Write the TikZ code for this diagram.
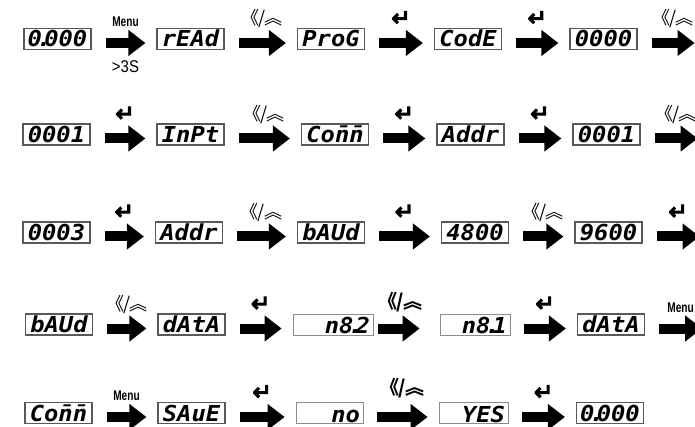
\documentclass[tikz,border=0pt]{standalone}
\usepackage{fontspec}
\usetikzlibrary{arrows.meta,calc}
\newfontfamily\segfont[FakeStretch=1.08]{DejaVu Sans Mono}
\newfontfamily\menufont[FakeStretch=0.72]{Liberation Sans}
\newfontfamily\lblfont[FakeStretch=0.88]{Liberation Sans}
\newfontfamily\cjkfont{Noto Sans CJK SC}
\newfontfamily\entfont[FakeBold=5]{DejaVu Sans}
\newcommand{\updn}{《\kern-1pt/\kern-1pt︽}
\newcommand{\segdp}{\kern-5pt.\kern-7pt}
\newcommand{\segm}{\rlap{¯}n}
\begin{document}
\begin{tikzpicture}[x=1pt,y=-1pt,
  segbox/.style={draw=black!65, line width=1.2pt, fill=white, minimum width=67pt,
    minimum height=21pt, inner sep=0pt, text height=16pt, text depth=0pt,
    font=\segfont\bfseries\itshape\fontsize{22}{22}\selectfont},
  lightbox/.style={segbox, draw=black!45, line width=0.8pt, text width=#1,
    align=right, inner xsep=3pt, text height=18pt},
  bigarrow/.style={line width=10pt, -{Triangle[length=17pt,width=25pt]},
    shorten <=14pt, shorten >=11pt},
  menulbl/.style={font=\menufont\bfseries\fontsize{14}{14}\selectfont, inner sep=0pt, anchor=south},
  timelbl/.style={font=\lblfont\fontsize{17}{17}\selectfont, inner sep=0pt, anchor=north},
  keylbl/.style={font=\cjkfont\fontsize{18}{18}\selectfont, inner sep=0pt, anchor=south},
  keyboldlbl/.style={keylbl, font=\cjkfont\bfseries\fontsize{19}{19}\selectfont},
  entlbl/.style={font=\entfont\fontsize{23}{23}\selectfont, inner sep=0pt, anchor=south}
]
\useasboundingbox (0,0) rectangle (695,427);
% ---------- row 1 ----------
\node[segbox] (b11) at (57.5,39) {0\segdp000};
\node[segbox] (b12) at (190.5,39) {rEAd};
\node[segbox] (b13) at (331,39) {ProG};
\node[segbox] (b14) at (468,39) {CodE};
\node[segbox] (b15) at (603.5,39) {0000};
\coordinate (e1) at ([xshift=68pt]b15.east);
% ---------- row 2 ----------
\node[segbox] (b21) at (56.5,134.5) {0001};
\node[segbox] (b22) at (190.5,134.5) {InPt};
\node[segbox] (b23) at (335,134.5) {Co\segm\segm};
\node[segbox] (b24) at (470.5,134.5) {Addr};
\node[segbox] (b25) at (606.5,134.5) {0001};
\coordinate (e2) at ([xshift=68pt]b25.east);
% ---------- row 3 ----------
\node[segbox] (b31) at (56.5,232.5) {0003};
\node[segbox] (b32) at (189,232.5) {Addr};
\node[segbox] (b33) at (331,232.5) {bAUd};
\node[segbox] (b34) at (475,232.5) {4800};
\node[segbox] (b35) at (608.5,232.5) {9600};
\coordinate (e3) at ([xshift=68pt]b35.east);
% ---------- row 4 ----------
\node[segbox] (b41) at (59,324.5) {bAUd};
\node[segbox] (b42) at (191.5,324.5) {dAtA};
\node[lightbox=74pt] (b43) at (333,324.5) {n8\segdp2};
\node[lightbox=64pt] (b44) at (475,324.5) {n8\segdp1};
\node[segbox] (b45) at (611,324.5) {dAtA};
\coordinate (e4) at ([xshift=68pt]b45.east);
% ---------- row 5 ----------
\node[segbox] (b51) at (58.5,413) {Co\segm\segm};
\node[segbox] (b52) at (191.5,413) {SAuE};
\node[lightbox=61pt] (b53) at (329.5,413) {no};
\node[lightbox=63pt] (b54) at (473.5,413) {YES};
\node[segbox] (b55) at (610,413) {0\segdp000};
% ---------- arrows ----------
\foreach \r in {1,2,3,4,5}{
  \draw[bigarrow] ([yshift=-4pt]b\r1.east) -- ([yshift=-4pt]b\r2.west);
  \draw[bigarrow] ([yshift=-4pt]b\r2.east) -- ([yshift=-4pt]b\r3.west);
  \draw[bigarrow] ([yshift=-4pt]b\r4.east) -- ([yshift=-4pt]b\r5.west);
}
\foreach \r in {1,2,3}{
  \draw[bigarrow] ([yshift=-4pt]b\r3.east) -- ([yshift=-4pt]b\r4.west);
}
\draw[bigarrow, shorten <=5pt, shorten >=20pt] ([yshift=-4pt]b43.east) -- ([yshift=-4pt]b44.west);
\draw[bigarrow] ([yshift=-4pt]b53.east) -- ([yshift=-4pt]b54.west);
\foreach \r in {1,2,3,4}{
  \draw[bigarrow] ([yshift=-4pt]b\r5.east) -- ([yshift=-4pt]e\r);
}
% ---------- labels ----------
% row 1
\node[menulbl] (m11) at ($(b11.east)!.5!(b12.west)+(1.5,-12)$) {Menu};
\node[timelbl] (t11) at ($(b11.east)!.5!(b12.west)+(1.5,21)$) {>3S};
\node[keylbl] (k12) at ($(b12.east)!.5!(b13.west)+(1.5,-11)$) {\updn};
\node[entlbl] (k13) at ($(b13.east)!.5!(b14.west)+(1.5,-13)$) {↵};
\node[entlbl] (k14) at ($(b14.east)!.5!(b15.west)+(1.5,-13)$) {↵};
\node[keylbl] (k15) at ($(b15.east)!.5!(e1)+(1.5,-11)$) {\updn};
% row 2
\node[entlbl] (k21) at ($(b21.east)!.5!(b22.west)+(1.5,-13)$) {↵};
\node[keylbl] (k22) at ($(b22.east)!.5!(b23.west)+(1.5,-11)$) {\updn};
\node[entlbl] (k23) at ($(b23.east)!.5!(b24.west)+(1.5,-13)$) {↵};
\node[entlbl] (k24) at ($(b24.east)!.5!(b25.west)+(1.5,-13)$) {↵};
\node[keylbl] (k25) at ($(b25.east)!.5!(e2)+(1.5,-11)$) {\updn};
% row 3
\node[entlbl] (k31) at ($(b31.east)!.5!(b32.west)+(1.5,-13)$) {↵};
\node[keylbl] (k32) at ($(b32.east)!.5!(b33.west)+(1.5,-11)$) {\updn};
\node[entlbl] (k33) at ($(b33.east)!.5!(b34.west)+(1.5,-13)$) {↵};
\node[keylbl] (k34) at ($(b34.east)!.5!(b35.west)+(1.5,-11)$) {\updn};
\node[entlbl] (k35) at ($(b35.east)!.5!(e3)+(1.5,-13)$) {↵};
% row 4
\node[keylbl] (k41) at ($(b41.east)!.5!(b42.west)+(1.5,-11)$) {\updn};
\node[entlbl] (k42) at ($(b42.east)!.5!(b43.west)+(1.5,-13)$) {↵};
\node[keyboldlbl] (k43) at ($(b43.east)!.5!(b44.west)+(-6,-12)$) {\updn};
\node[entlbl] (k44) at ($(b44.east)!.5!(b45.west)+(1.5,-13)$) {↵};
\node[menulbl] (m45) at ($(b45.east)!.5!(e4)+(1.5,-12)$) {Menu};
% row 5
\node[menulbl] (m51) at ($(b51.east)!.5!(b52.west)+(1.5,-12)$) {Menu};
\node[entlbl] (k52) at ($(b52.east)!.5!(b53.west)+(1.5,-13)$) {↵};
\node[keyboldlbl] (k53) at ($(b53.east)!.5!(b54.west)+(1.5,-15)$) {\updn};
\node[entlbl] (k54) at ($(b54.east)!.5!(b55.west)+(1.5,-13)$) {↵};
\end{tikzpicture}
\end{document}
